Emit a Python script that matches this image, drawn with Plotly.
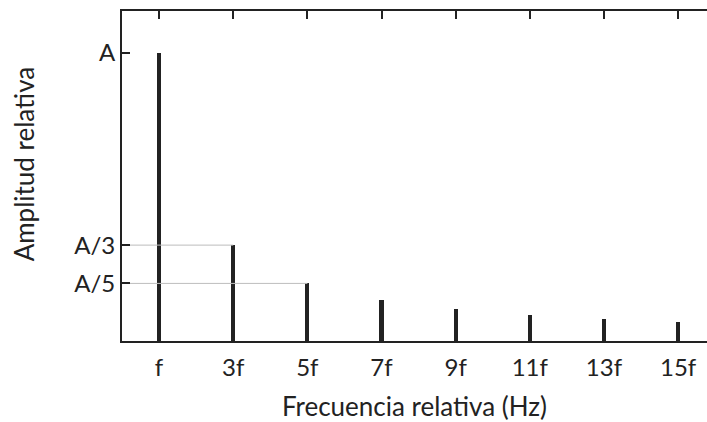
import plotly.graph_objects as go

# Odd harmonics of a square wave and their relative amplitudes (A = 1)
harmonic_n = [1, 3, 5, 7, 9, 11, 13, 15]
harmonic_labels = ["f", "3f", "5f", "7f", "9f", "11f", "13f", "15f"]
amplitudes = [1.0, 0.333, 0.2, 0.143, 0.111, 0.091, 0.077, 0.067]

# Amplitude levels marked on the vertical axis
level_values = [1.0, 0.333, 0.2]
level_labels = ["A", "A/3", "A/5"]

# Harmonics whose amplitude is traced back to the axis with a guide line
guided = [3, 5]

INK = "#222222"
FONT = "Lato, 'Open Sans', sans-serif"

fig = go.Figure()

for n in guided:
    amp = amplitudes[harmonic_n.index(n)]
    fig.add_trace(go.Scatter(
        x=[0, n], y=[amp, amp], mode="lines",
        line=dict(color="#bdbdbd", width=1),
        hoverinfo="skip", showlegend=False,
    ))

fig.add_trace(go.Bar(
    x=harmonic_n, y=amplitudes, width=0.11,
    marker=dict(color=INK, line=dict(width=0)),
    showlegend=False,
))

fig.update_layout(
    width=707, height=422,
    margin=dict(l=122, r=0, t=11, b=81),
    paper_bgcolor="white", plot_bgcolor="white",
    font=dict(family=FONT, color=INK, size=24),
    bargap=0,
    annotations=[dict(
        text="Amplitud relativa", textangle=-90,
        xref="paper", yref="paper", x=-0.166, y=0.538,
        xanchor="center", yanchor="middle", showarrow=False,
        font=dict(size=26, color=INK),
    )],
)

fig.update_xaxes(
    range=[0, 15.78],
    tickmode="array", tickvals=harmonic_n, ticktext=harmonic_labels,
    ticks="inside", ticklen=8, tickwidth=2, tickcolor=INK,
    showline=True, linewidth=2, linecolor=INK, mirror="ticks",
    showgrid=False, zeroline=False,
    tickfont=dict(size=24), ticklabelstandoff=4,
    title=dict(text="Frecuencia relativa (Hz)", font=dict(size=26), standoff=20),
)

fig.update_yaxes(
    range=[0, 1.146],
    tickmode="array", tickvals=level_values, ticktext=level_labels,
    ticks="inside", ticklen=8, tickwidth=2, tickcolor=INK,
    showline=True, linewidth=2, linecolor=INK, mirror=False,
    showgrid=False, zeroline=False,
    tickfont=dict(size=24),
)

fig.write_html("out.html")
